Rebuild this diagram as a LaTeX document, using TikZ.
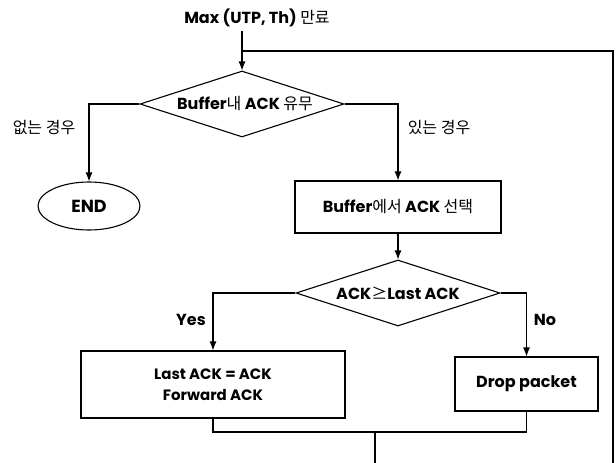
\documentclass[tikz,border=0pt]{standalone}
\usepackage{fontspec}
\setmainfont{Poppins}
\newfontfamily\kr{Noto Sans CJK KR}
\usetikzlibrary{shapes.geometric,arrows.meta}
\newcommand{\ko}[1]{{\kr\mdseries #1}}
\begin{document}
\begin{tikzpicture}[x=1pt,y=-1pt,
  every node/.style={font=\fontsize{16}{19}\selectfont\bfseries, inner sep=0pt},
  ln/.style={line width=1.1pt},
  arr/.style={ln,-{Latex[length=9pt,width=7pt]}},
  dia/.style={diamond,draw,ln,minimum width=204pt,minimum height=66pt,inner sep=0pt},
  boxnode/.style={rectangle,draw,ln},
  ellnode/.style={ellipse,draw,ln},
  small/.style={font=\fontsize{15}{21}\selectfont\bfseries}]
\useasboundingbox (0,0) rectangle (616,463);

% title and entry
\node (title) at (257,18) {Max (UTP, Th) \ko{만료}};
\coordinate (s) at (242,31);
\coordinate (j1) at (242,51);
\coordinate (rtop) at (613,51);
\coordinate (rbot) at (613,463);

% first decision
\node[dia] (d1) at (242,104) {};
\node (d1t) at (245,104) {Buffer\ko{내} ACK \ko{유무}};
\node (no1) at (44,128) {\ko{없는 경우}};
\node (yes1) at (439,128) {\ko{있는 경우}};

\node[ellnode, minimum width=102pt, minimum height=48pt, font=\fontsize{17.5}{20}\selectfont\bfseries] (end) at (89,206) {END};
\node[boxnode, minimum width=206pt, minimum height=52pt] (sel) at (398,207) {Buffer\ko{에서} ACK \ko{선택}};

% second decision
\node[dia] (d2) at (398,293) {};
\node (d2t) at (398,293) {ACK\ko{≥}Last ACK};
\node (yes) at (191,320) {Yes};
\node (no) at (545,320) {No};

\node[boxnode, small, minimum width=264pt, minimum height=67pt, align=center] (last) at (213,384.5) {Last ACK = ACK\\Forward ACK};
\node[boxnode, minimum width=143pt, minimum height=54pt] (drop) at (526.5,384) {Drop packet};

\coordinate (m) at (375,432);
\coordinate (mb) at (375,463);

% connectors
\draw[arr] (s) -- (d1.north);
\draw[ln] (rbot) -- (rtop) -- (j1);
\draw[arr] (d1.west) -| (end.north);
\draw[arr] (d1.east) -| (sel.north);
\draw[arr] (sel.south) -- (d2.north);
\draw[arr] (d2.west) -| (last.north);
\draw[arr] (d2.east) -| (drop.north);
\draw[ln] (last.south) |- (m) -| (drop.south);
\draw[ln] (m) -- (mb);
\end{tikzpicture}
\end{document}
